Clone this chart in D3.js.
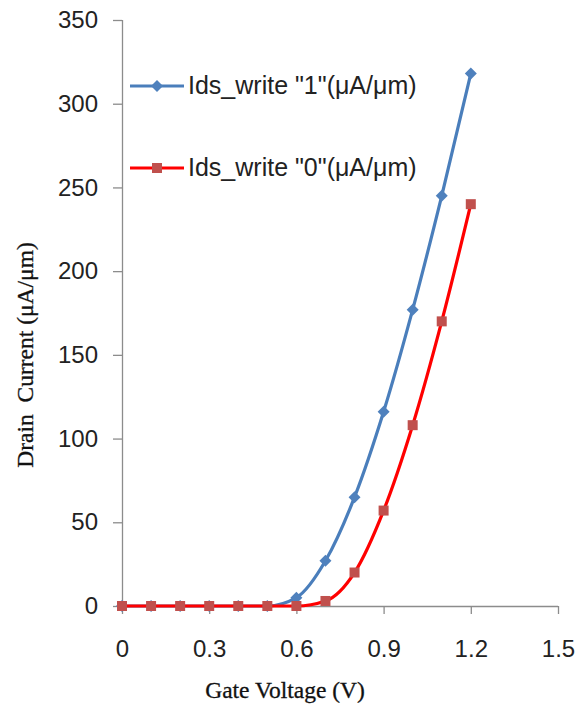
<!DOCTYPE html>
<html><head><meta charset="utf-8">
<script src="https://cdn.jsdelivr.net/npm/d3@7"></script>
<style>body{margin:0;background:#fff}</style>
</head><body>
<svg id="c" width="583" height="707"></svg>
<script>
const voltages = [0,0.1,0.2,0.3,0.4,0.5,0.6,0.7,0.8,0.9,1.0,1.1,1.2];
const write1 = [0,0,0,0,0,0,5,27,65,116,177,245,318];
const write0 = [0,0,0,0,0,0,0,3,20,57,108,170,240];
const seriesNames = ['Ids_write "1"(\u03bcA/\u03bcm)','Ids_write "0"(\u03bcA/\u03bcm)'];
const xTicks = [0,0.3,0.6,0.9,1.2,1.5];
const yTicks = [0,50,100,150,200,250,300,350];

const svg = d3.select('#c');
const x = d3.scaleLinear().domain([0,1.5]).range([122,558]);
const y = d3.scaleLinear().domain([0,350]).range([606,20]);
const axisColor = '#8c8c8c';
const sans = '"Liberation Sans", Arial, sans-serif';
const serif = '"Liberation Serif", "Times New Roman", serif';

const gy = svg.append('g').attr('transform','translate(122,0)')
  .call(d3.axisLeft(y).tickValues(yTicks).tickSize(9).tickPadding(15).tickFormat(d3.format('d')));
const gx = svg.append('g').attr('transform','translate(0,606)')
  .call(d3.axisBottom(x).tickValues(xTicks).tickSize(8).tickPadding(26).tickFormat(d=>d===0?'0':d3.format('.1f')(d)));
[gx,gy].forEach(g=>{
  g.selectAll('path,line').attr('stroke',axisColor).attr('stroke-width',1.3);
  g.selectAll('text').attr('font-family',sans).attr('font-size',24).attr('fill','#222');
});
gy.select('.domain').attr('d','M0.5,20V606');
gx.select('.domain').attr('d','M122,0.5H558');

svg.append('text').attr('x',285).attr('y',698).attr('text-anchor','middle')
  .attr('font-family',serif).attr('font-size',23.5).attr('fill','#111')
  .attr('stroke','#111').attr('stroke-width',0.3).text('Gate Voltage (V)');
svg.append('text').attr('transform','translate(33,355) rotate(-90)').attr('text-anchor','middle')
  .attr('font-family',serif).attr('font-size',23.5).attr('fill','#111')
  .attr('stroke','#111').attr('stroke-width',0.3)
  .style('white-space','pre').text('Drain  Current (\u03bcA/\u03bcm)');

const line = d3.line().x(d=>x(d[0])).y(d=>y(d[1])).curve(d3.curveMonotoneX);
const diamond = s => `M0,${-s}L${s},0L0,${s}L${-s},0Z`;

const s1 = voltages.map((v,i)=>[v,write1[i]]);
const s0 = voltages.map((v,i)=>[v,write0[i]]);

svg.append('path').attr('d',line(s1)).attr('fill','none').attr('stroke','#4a7ebb').attr('stroke-width',3.2);
svg.selectAll('.m1').data(s1).enter().append('path')
  .attr('transform',d=>`translate(${x(d[0])},${y(d[1])})`).attr('d',diamond(6)).attr('fill','#4f81bd');

svg.append('path').attr('d',line(s0)).attr('fill','none').attr('stroke','#ff0000').attr('stroke-width',3.2);
svg.selectAll('.m0').data(s0).enter().append('rect')
  .attr('x',d=>x(d[0])-5).attr('y',d=>y(d[1])-5).attr('width',10).attr('height',10).attr('fill','#c0504d');

// legend
const leg = [{y:86,color:'#4a7ebb',mc:'#4f81bd',shape:'d',name:seriesNames[0]},
             {y:168,color:'#ff0000',mc:'#c0504d',shape:'s',name:seriesNames[1]}];
leg.forEach(l=>{
  svg.append('line').attr('x1',130).attr('x2',184).attr('y1',l.y).attr('y2',l.y).attr('stroke',l.color).attr('stroke-width',3.2);
  if(l.shape==='d') svg.append('path').attr('transform',`translate(157,${l.y})`).attr('d',diamond(6)).attr('fill',l.mc);
  else svg.append('rect').attr('x',152).attr('y',l.y-5).attr('width',10).attr('height',10).attr('fill',l.mc);
  svg.append('text').attr('x',188).attr('y',l.y+8).attr('font-family',sans).attr('font-size',25).attr('fill','#222').text(l.name);
});
</script>
</body></html>
